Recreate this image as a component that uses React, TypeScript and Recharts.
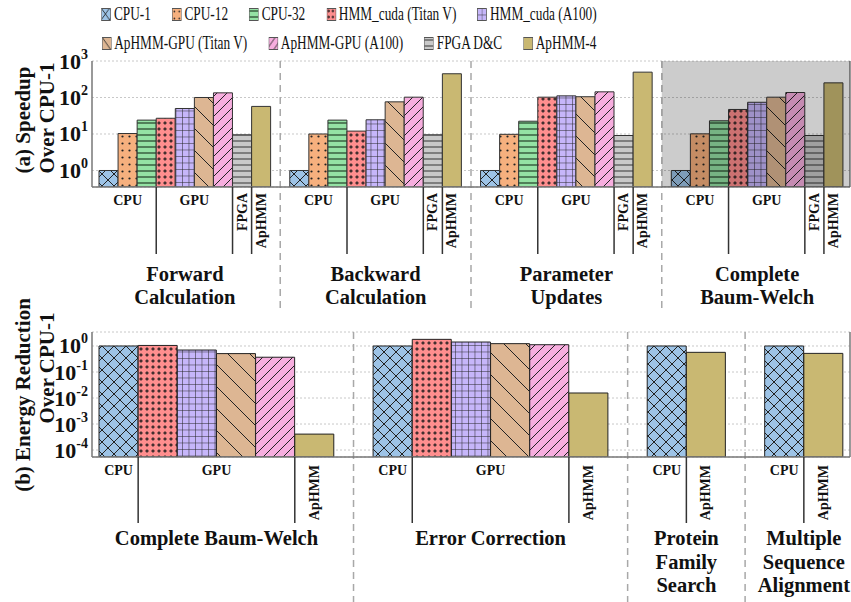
import React from 'react';
import { BarChart, Bar, XAxis, YAxis, CartesianGrid, ReferenceLine, ReferenceArea, Cell } from 'recharts';

// ---------- series ----------
const seriesNames = ['CPU-1', 'CPU-12', 'CPU-32', 'HMM_cuda (Titan V)', 'HMM_cuda (A100)', 'ApHMM-GPU (Titan V)', 'ApHMM-GPU (A100)', 'FPGA D&C', 'ApHMM-4'];
const seriesColors = ['#9DC3E6', '#F6B07E', '#94E2A4', '#FF8E8E', '#C6B6FA', '#DDB693', '#F7AEDF', '#C9C9C9', '#C9B872'];
const seriesPatterns = ['p-cross', 'p-dots', 'p-hline', 'p-rdots', 'p-grid', 'p-bslash', 'p-fslash', 'p-gline', ''];

// ---------- (a) speedup ----------
const speedupCategories = ['Forward\nCalculation', 'Backward\nCalculation', 'Parameter\nUpdates', 'Complete\nBaum-Welch'];
const speedupSeries = [0, 1, 2, 3, 4, 5, 6, 7, 8];
const forwardSpeedup = [1, 10.3, 24, 27, 50, 100, 134, 9.5, 57];
const backwardSpeedup = [1, 10, 24, 12, 24.5, 76, 102, 9.5, 447];
const parameterSpeedup = [1, 9.8, 22.4, 102, 111, 105, 143, 9.1, 495];
const completeSpeedup = [1, 10.1, 23, 47, 74, 102, 137, 9.1, 252];
const speedupTicks = [1, 10, 100, 1000];
const speedupTickLabels = ['0', '1', '2', '3'];
const speedupDomain = [0.353, 1000];
const speedupPlatforms = [
  { label: 'CPU', from: 0, to: 2, rotate: false },
  { label: 'GPU', from: 3, to: 6, rotate: false },
  { label: 'FPGA', from: 7, to: 7, rotate: true },
  { label: 'ApHMM', from: 8, to: 8, rotate: true },
];

// ---------- (b) energy ----------
const energyCategories = ['Complete Baum-Welch', 'Error Correction', 'Protein\nFamily\nSearch', 'Multiple\nSequence\nAlignment'];
const bwSeries = [0, 3, 4, 5, 6, 8];
const bwEnergy = [1, 1.05, 0.7, 0.51, 0.37, 0.00041];
const ecSeries = [0, 3, 4, 5, 6, 8];
const ecEnergy = [1, 1.8, 1.42, 1.23, 1.12, 0.0156];
const pfsSeries = [0, 8];
const pfsEnergy = [1, 0.57];
const msaSeries = [0, 8];
const msaEnergy = [1, 0.52];
const energyTicks = [0.0001, 0.001, 0.01, 0.1, 1];
const energyTickLabels = ['-4', '-3', '-2', '-1', '0'];
const energyDomain = [0.000054, 3.45];
const energyPlatformsLarge = [
  { label: 'CPU', from: 0, to: 0, rotate: false },
  { label: 'GPU', from: 1, to: 4, rotate: false },
  { label: 'ApHMM', from: 5, to: 5, rotate: true },
];
const energyPlatformsSmall = [
  { label: 'CPU', from: 0, to: 0, rotate: false },
  { label: 'ApHMM', from: 1, to: 1, rotate: true },
];

// ---------- helpers ----------
type Row = { key: string; value: number | null; series: number; group: number; slot: number; gap: boolean };

function buildRows(prefix: string, groups: { series: number[]; values: number[] }[]): Row[] {
  const rows: Row[] = [];
  groups.forEach((g, gi) => {
    if (gi > 0) rows.push({ key: `${prefix}gap${gi}`, value: null, series: -1, group: gi, slot: -1, gap: true });
    g.series.forEach((s, si) => {
      rows.push({ key: `${prefix}${gi}-${si}`, value: g.values[si], series: s, group: gi, slot: si, gap: false });
    });
  });
  return rows;
}

const speedupRows = buildRows('a', [
  { series: speedupSeries, values: forwardSpeedup },
  { series: speedupSeries, values: backwardSpeedup },
  { series: speedupSeries, values: parameterSpeedup },
  { series: speedupSeries, values: completeSpeedup },
]);
const energyRows = buildRows('b', [
  { series: bwSeries, values: bwEnergy },
  { series: ecSeries, values: ecEnergy },
  { series: pfsSeries, values: pfsEnergy },
  { series: msaSeries, values: msaEnergy },
]);

const speedupMeta = speedupCategories.map((c) => ({ title: c.split('\n'), platforms: speedupPlatforms, n: 9 }));
const energyMeta = energyCategories.map((c, i) => ({
  title: c.split('\n'),
  platforms: i < 2 ? energyPlatformsLarge : energyPlatformsSmall,
  n: i < 2 ? 6 : 2,
}));

const FONT = "'Liberation Serif', 'Times New Roman', serif";
const TXT = '#111';
const PLOT_W = 758;
const PAD = 7;
const W_TOP = (PLOT_W - 2 * PAD) / speedupRows.length;
const W_BOT = (PLOT_W - 2 * PAD) / energyRows.length;

const fillFor = (s: number) => (seriesPatterns[s] ? `url(#${seriesPatterns[s]})` : seriesColors[s]);

function makeXTick(rows: Row[], meta: any[], W: number, o: { line: number; lab: number; rot: number; title: number; lh: number }) {
  const map: Record<string, Row> = {};
  rows.forEach((r) => (map[r.key] = r));
  return (props: any) => {
    const { x, y, payload } = props;
    const row = map[payload.value];
    if (!row || row.gap) return <g />;
    const m = meta[row.group];
    const els: any[] = [];
    m.platforms.forEach((p: any, pi: number) => {
      if (row.slot === p.from) {
        if (pi > 0)
          els.push(<line key={`l${pi}`} x1={x - W / 2} x2={x - W / 2} y1={y} y2={y + o.line} stroke="#333" strokeWidth={1.5} />);
        const cx = x + ((p.to - p.from) * W) / 2;
        if (p.rotate)
          els.push(
            <text key={`t${pi}`} transform={`translate(${cx},${y + o.rot}) rotate(-90)`} textAnchor="end" dominantBaseline="central" fontFamily={FONT} fontWeight="bold" fontSize={14} fill={TXT}>
              {p.label}
            </text>
          );
        else
          els.push(
            <text key={`t${pi}`} x={cx} y={y + o.lab} textAnchor="middle" fontFamily={FONT} fontWeight="bold" fontSize={14} fill={TXT}>
              {p.label}
            </text>
          );
      }
    });
    if (row.slot === 0) {
      const cx = x + ((m.n - 1) * W) / 2;
      m.title.forEach((t: string, ti: number) =>
        els.push(
          <text key={`h${ti}`} x={cx} y={y + o.title + ti * o.lh} textAnchor="middle" fontFamily={FONT} fontWeight="bold" fontSize={20.5} fill={TXT}>
            {t}
          </text>
        )
      );
    }
    return <g>{els}</g>;
  };
}

const makeYTick = (labels: string[], ticks: number[]) => (props: any) => {
  const { x, y, payload } = props;
  const i = ticks.indexOf(payload.value);
  return (
    <text x={x} y={y + 7.5} textAnchor="end" fontFamily={FONT} fontWeight="bold" fontSize={22} fill={TXT}>
      10
      <tspan dy={-10} fontSize={14}>
        {labels[i]}
      </tspan>
    </text>
  );
};

const sepShape = (ext: number) => (p: any) => {
  const top = Math.min(p.y1, p.y2);
  const bot = Math.max(p.y1, p.y2);
  return <line x1={p.x1} x2={p.x2} y1={top} y2={bot + ext} stroke="#a8a8a8" strokeWidth={1.5} strokeDasharray="7 5" />;
};

const yLabel = (lines: string[], cy: number[]) => () => (
  <g>
    {lines.map((l, i) => (
      <text key={i} transform={`translate(${23 + i * 24},${cy[i]}) rotate(-90)`} textAnchor="middle" dominantBaseline="central" fontFamily={FONT} fontWeight="bold" fontSize={21} fill={TXT}>
        {l}
      </text>
    ))}
  </g>
);

function Patterns() {
  return (
    <svg width={0} height={0} style={{ position: 'absolute' }}>
      <defs>
        <pattern id="p-cross" patternUnits="userSpaceOnUse" width={12} height={12}>
          <rect width={12} height={12} fill={seriesColors[0]} />
          <path d="M0,0L12,12M12,0L0,12" stroke="#222" strokeWidth={1} />
        </pattern>
        <pattern id="p-dots" patternUnits="userSpaceOnUse" width={7} height={7}>
          <rect width={7} height={7} fill={seriesColors[1]} />
          <circle cx={3.5} cy={3.5} r={1.1} fill="#222" />
        </pattern>
        <pattern id="p-hline" patternUnits="userSpaceOnUse" width={6} height={6}>
          <rect width={6} height={6} fill={seriesColors[2]} />
          <line x1={0} x2={6} y1={3} y2={3} stroke="#2a4a30" strokeWidth={1.3} />
        </pattern>
        <pattern id="p-rdots" patternUnits="userSpaceOnUse" width={6} height={6}>
          <rect width={6} height={6} fill={seriesColors[3]} />
          <circle cx={3} cy={3} r={1.3} fill="#553333" stroke="#222" strokeWidth={0.5} />
        </pattern>
        <pattern id="p-grid" patternUnits="userSpaceOnUse" width={6.5} height={6.5}>
          <rect width={6.5} height={6.5} fill={seriesColors[4]} />
          <path d="M0,0L6.5,0M0,0L0,6.5" stroke="#222" strokeWidth={1} />
        </pattern>
        <pattern id="p-bslash" patternUnits="userSpaceOnUse" width={22} height={22}>
          <rect width={22} height={22} fill={seriesColors[5]} />
          <path d="M0,0L22,22M-2,20L2,24M20,-2L24,2" stroke="#222" strokeWidth={1} />
        </pattern>
        <pattern id="p-fslash" patternUnits="userSpaceOnUse" width={10} height={10}>
          <rect width={10} height={10} fill={seriesColors[6]} />
          <path d="M0,10L10,0M-2,2L2,-2M8,12L12,8" stroke="#222" strokeWidth={1} />
        </pattern>
        <pattern id="p-gline" patternUnits="userSpaceOnUse" width={6} height={6}>
          <rect width={6} height={6} fill={seriesColors[7]} />
          <line x1={0} x2={6} y1={3} y2={3} stroke="#666" strokeWidth={1.5} />
        </pattern>
      </defs>
    </svg>
  );
}

function LegendRow({ items, top }: { items: number[]; top: number }) {
  return (
    <div
      style={{
        position: 'absolute',
        left: 349 - 400,
        top,
        width: 800,
        display: 'flex',
        justifyContent: 'center',
        transform: 'scaleX(0.7)',
        transformOrigin: 'center',
        fontFamily: FONT,
        fontSize: 19,
        lineHeight: '20px',
        color: TXT,
        whiteSpace: 'nowrap',
      }}
    >
      {items.map((s, i) => (
        <div key={s} style={{ display: 'flex', alignItems: 'center', marginLeft: i ? 30 : 0 }}>
          <svg width={14} height={13} style={{ display: 'block' }}>
            <rect x={0.5} y={0.5} width={13} height={12} fill={fillFor(s)} stroke="#555" strokeWidth={1} />
          </svg>
          <span style={{ marginLeft: 4 }}>{seriesNames[s]}</span>
        </div>
      ))}
    </div>
  );
}

const topTick = makeXTick(speedupRows, speedupMeta, W_TOP, { line: 67, lab: 18, rot: 6, title: 93.5, lh: 23 });
const botTick = makeXTick(energyRows, energyMeta, W_BOT, { line: 66, lab: 18, rot: 8, title: 88, lh: 23.5 });

const BOT_TOP = 280;

export default function App() {
  const axisStroke = '#777';
  return (
    <div style={{ position: 'absolute', left: 0, top: 0, width: 851, height: 602, background: '#fff', overflow: 'hidden' }}>
      <Patterns />
      <LegendRow items={[0, 1, 2, 3, 4]} top={4} />
      <LegendRow items={[5, 6, 7, 8]} top={33} />
      <div style={{ position: 'absolute', left: 0, top: 0 }}>
        <BarChart width={851} height={320} data={speedupRows} margin={{ top: 61, right: 0, left: 0, bottom: 0 }} barCategoryGap={0} barGap={0}>
          <CartesianGrid vertical={false} stroke="#c8c8c8" strokeDasharray="2 2" />
          <XAxis dataKey="key" type="category" interval={0} height={133} tickSize={0} tickMargin={0} tickLine={false} axisLine={{ stroke: axisStroke, strokeWidth: 1.5 }} padding={{ left: PAD, right: PAD }} tick={topTick} />
          <XAxis xAxisId="top" dataKey="key" orientation="top" height={0} tick={false} tickLine={false} axisLine={{ stroke: axisStroke, strokeWidth: 1.5 }} />
          <YAxis scale="log" domain={speedupDomain} allowDataOverflow ticks={speedupTicks} width={92} tickSize={0} tickMargin={4} tickLine={false} axisLine={{ stroke: axisStroke, strokeWidth: 1.5 }} tick={makeYTick(speedupTickLabels, speedupTicks)} label={{ content: yLabel(['(a) Speedup', 'Over CPU-1'], [120, 118]) }} />
          <YAxis yAxisId="r" orientation="right" width={1} tick={false} tickLine={false} axisLine={{ stroke: axisStroke, strokeWidth: 1.5 }} />
          <Bar dataKey="value" isAnimationActive={false} stroke="#333" strokeWidth={1}>
            {speedupRows.map((r) => (
              <Cell key={r.key} fill={r.gap ? 'none' : fillFor(r.series)} />
            ))}
          </Bar>
          {speedupRows.filter((r) => r.gap).map((r) => (
            <ReferenceLine key={r.key} x={r.key} shape={sepShape(123)} />
          ))}
          <ReferenceArea
            x1="agap3"
            x2="a3-8"
            zIndex={900}
            shape={(p: any) => <rect x={p.x + W_TOP / 2} y={p.y} width={p.width - W_TOP / 2 + PAD} height={p.height} fill="#000" fillOpacity={0.2} />}
          />
        </BarChart>
      </div>
      <div style={{ position: 'absolute', left: 0, top: BOT_TOP }}>
        <BarChart width={851} height={602 - BOT_TOP} data={energyRows} margin={{ top: 332 - BOT_TOP, right: 0, left: 0, bottom: 0 }} barCategoryGap={0} barGap={0}>
          <CartesianGrid vertical={false} stroke="#c8c8c8" strokeDasharray="2 2" />
          <XAxis dataKey="key" type="category" interval={0} height={145} tickSize={0} tickMargin={0} tickLine={false} axisLine={{ stroke: axisStroke, strokeWidth: 1.5 }} padding={{ left: PAD, right: PAD }} tick={botTick} />
          <XAxis xAxisId="top" dataKey="key" orientation="top" height={0} tick={false} tickLine={false} axisLine={{ stroke: axisStroke, strokeWidth: 1.5 }} />
          <YAxis scale="log" domain={energyDomain} allowDataOverflow ticks={energyTicks} width={92} tickSize={0} tickMargin={4} tickLine={false} axisLine={{ stroke: axisStroke, strokeWidth: 1.5 }} tick={makeYTick(energyTickLabels, energyTicks)} label={{ content: yLabel(['(b) Energy Reduction', 'Over CPU-1'], [395 - BOT_TOP, 368 - BOT_TOP]) }} />
          <YAxis yAxisId="r" orientation="right" width={1} tick={false} tickLine={false} axisLine={{ stroke: axisStroke, strokeWidth: 1.5 }} />
          <Bar dataKey="value" isAnimationActive={false} stroke="#222" strokeWidth={1}>
            {energyRows.map((r) => (
              <Cell key={r.key} fill={r.gap ? 'none' : fillFor(r.series)} />
            ))}
          </Bar>
          {energyRows.filter((r) => r.gap).map((r) => (
            <ReferenceLine key={r.key} x={r.key} shape={sepShape(150)} />
          ))}
        </BarChart>
      </div>
    </div>
  );
}
